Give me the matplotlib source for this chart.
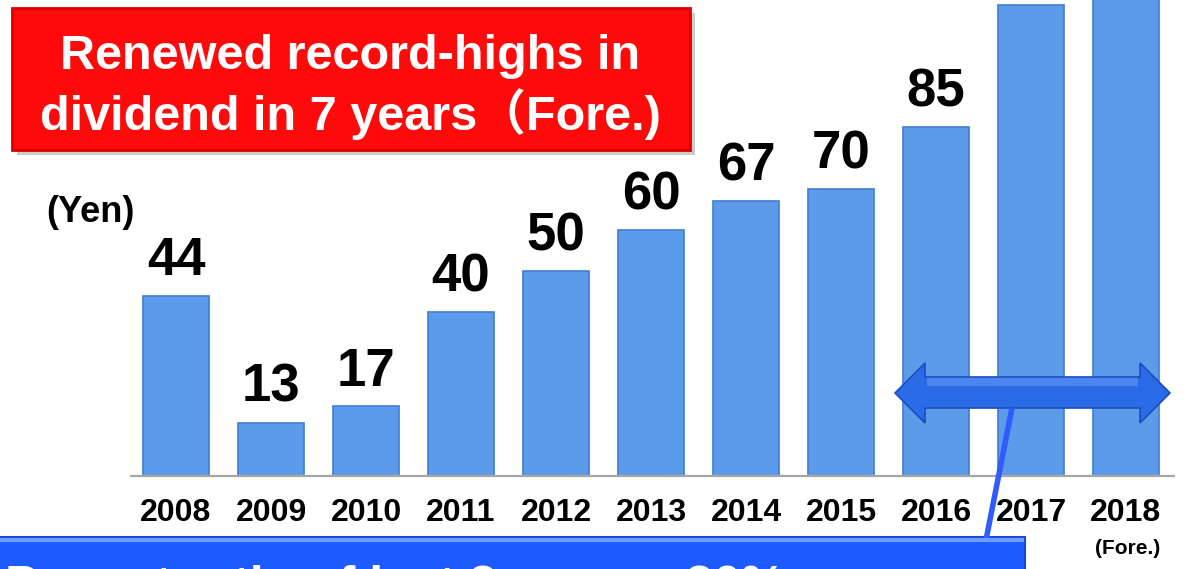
import matplotlib
matplotlib.use("Agg")
from matplotlib import pyplot as plt
from matplotlib.patches import Rectangle, Polygon

years = ["2008", "2009", "2010", "2011", "2012", "2013", "2014", "2015", "2016", "2017", "2018"]
dividend = [44, 13, 17, 40, 50, 60, 67, 70, 85, 115, 122]
title_lines = ["Renewed record-highs in", "dividend in 7 years（Fore.)"]
bottom_text = "Payout ratio of last 3 years : 30%"

plt.rcParams["font.family"] = ["Liberation Sans", "Noto Sans CJK JP", "DejaVu Sans"]

W, H = 1196, 569
fig = plt.figure(figsize=(W / 100, H / 100), dpi=100)
ax = fig.add_axes([0, 0, 1, 1])

x = list(range(len(years)))
ax.bar(x, dividend, width=0.7, color="#5B9BEA", edgecolor="#3F7ED3", linewidth=1.2, zorder=2)
ax.hlines(0, -0.48, 10.52, color="#A6A6A6", lw=1.6, zorder=3)

ax.set_xlim(-1.853, 10.737)
ax.set_ylim(-22.7, 116.1)
for xi, v in zip(x, dividend):
    if v < 100:
        ax.annotate(str(v), (xi, v), xytext=(0, 7), textcoords="offset points",
                    ha="center", va="bottom", fontsize=38, fontweight="bold")
# year labels under the baseline
for xi, yr in zip(x, years):
    ax.text(xi, -9.0, yr, ha="center", va="center", fontsize=23, fontweight="bold")

ax.set_xticks([])
ax.set_yticks([])
for s in ax.spines.values():
    s.set_visible(False)
ax.patch.set_alpha(0)

# overlay in pixel coordinates for boxes and callouts
ov = fig.add_axes([0, 0, 1, 1], zorder=5)
ov.set_xlim(0, W)
ov.set_ylim(H, 0)
ov.axis("off")
ov.patch.set_alpha(0)

ov.text(1128, 549, "(Fore.)", ha="center", va="center", fontsize=15, fontweight="bold")
ov.text(90, 212, "(Yen)", ha="center", va="center", fontsize=26, fontweight="bold")

# red title box
ov.add_patch(Rectangle((17, 13), 678, 142, color="#8C8C8C", alpha=0.45, lw=0))
ov.add_patch(Rectangle((12, 8), 678, 142, facecolor="#FF0A0A", edgecolor="#D80000", lw=2))
ov.text(350, 56, title_lines[0], ha="center", va="center", color="white",
        fontsize=35, fontweight="bold")
ov.text(350, 114, title_lines[1], ha="center", va="center", color="white",
        fontsize=35, fontweight="bold")

# double arrow
arrow = [(895, 393), (925, 363), (925, 377), (1140, 377), (1140, 363), (1170, 393),
         (1140, 423), (1140, 408), (925, 408), (925, 423)]
ov.add_patch(Polygon(arrow, closed=True, facecolor="#2B6BE8", edgecolor="#1A4DBD", lw=1.2))
ov.plot([927, 1138], [382, 382], color="#4C86F0", lw=6, solid_capstyle="butt")
ov.plot([1012, 986], [408, 540], color="#2F5CFF", lw=4, solid_capstyle="butt")

# blue bottom box
ov.add_patch(Rectangle((-5, 537), 1030, 60, facecolor="#1E5BFF", edgecolor="#1848D0", lw=1.5))
ov.plot([0, 1022], [539.5, 539.5], color="#6E9CFF", lw=3)
ov.text(5, 601, bottom_text, ha="left", va="baseline", color="white",
        fontsize=36, fontweight="bold")

fig.savefig("out.png", dpi=100)
